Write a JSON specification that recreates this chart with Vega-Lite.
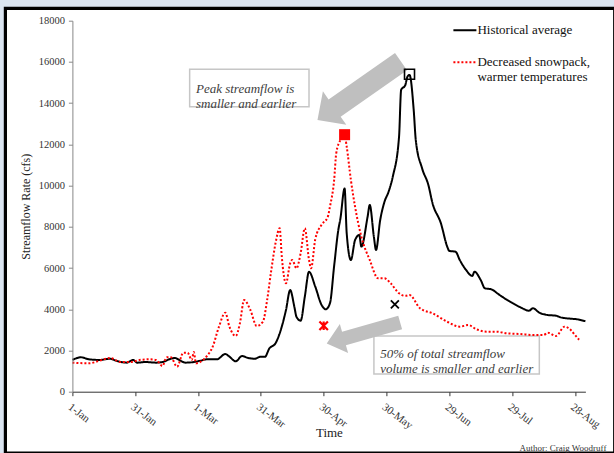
{
  "$schema": "https://vega.github.io/schema/vega-lite/v6.json",
  "width": 513,
  "height": 371,
  "autosize": {"type": "none"},
  "padding": {"left": 72.4, "top": 20.7, "right": 28.6, "bottom": 61.3},
  "background": "#dbe5f1",
  "config": {"view": {"stroke": null}, "font": "Liberation Serif, serif"},
  "title": {"text": "Author: Craig Woodruff", "orient": "bottom", "anchor": "end", "frame": "group", "fontSize": 9, "fontWeight": "normal", "font": "Liberation Serif, serif", "color": "#333333", "offset": -11, "dx": 21, "baseline": "top"},
  "datasets": {
    "flow": [
      {"date": "2000-01-01", "series": "Historical average", "cfs": 1540},
      {"date": "2000-01-05", "series": "Historical average", "cfs": 1670},
      {"date": "2000-01-09", "series": "Historical average", "cfs": 1570},
      {"date": "2000-01-14", "series": "Historical average", "cfs": 1540},
      {"date": "2000-01-19", "series": "Historical average", "cfs": 1600},
      {"date": "2000-01-22", "series": "Historical average", "cfs": 1500},
      {"date": "2000-01-27", "series": "Historical average", "cfs": 1410},
      {"date": "2000-01-30", "series": "Historical average", "cfs": 1540},
      {"date": "2000-02-01", "series": "Historical average", "cfs": 1410},
      {"date": "2000-02-05", "series": "Historical average", "cfs": 1440},
      {"date": "2000-02-10", "series": "Historical average", "cfs": 1410},
      {"date": "2000-02-13", "series": "Historical average", "cfs": 1440},
      {"date": "2000-02-17", "series": "Historical average", "cfs": 1600},
      {"date": "2000-02-19", "series": "Historical average", "cfs": 1635},
      {"date": "2000-02-21", "series": "Historical average", "cfs": 1540},
      {"date": "2000-02-24", "series": "Historical average", "cfs": 1410},
      {"date": "2000-02-28", "series": "Historical average", "cfs": 1440},
      {"date": "2000-03-02", "series": "Historical average", "cfs": 1500},
      {"date": "2000-03-05", "series": "Historical average", "cfs": 1570},
      {"date": "2000-03-10", "series": "Historical average", "cfs": 1570},
      {"date": "2000-03-14", "series": "Historical average", "cfs": 1830},
      {"date": "2000-03-16", "series": "Historical average", "cfs": 1700},
      {"date": "2000-03-19", "series": "Historical average", "cfs": 1475},
      {"date": "2000-03-22", "series": "Historical average", "cfs": 1730},
      {"date": "2000-03-25", "series": "Historical average", "cfs": 1635},
      {"date": "2000-03-28", "series": "Historical average", "cfs": 1600},
      {"date": "2000-03-31", "series": "Historical average", "cfs": 1700},
      {"date": "2000-04-02", "series": "Historical average", "cfs": 1700},
      {"date": "2000-04-04", "series": "Historical average", "cfs": 2090},
      {"date": "2000-04-07", "series": "Historical average", "cfs": 2350},
      {"date": "2000-04-09", "series": "Historical average", "cfs": 2830},
      {"date": "2000-04-12", "series": "Historical average", "cfs": 3960},
      {"date": "2000-04-14", "series": "Historical average", "cfs": 4930},
      {"date": "2000-04-16", "series": "Historical average", "cfs": 4120},
      {"date": "2000-04-17", "series": "Historical average", "cfs": 3640},
      {"date": "2000-04-19", "series": "Historical average", "cfs": 3445},
      {"date": "2000-04-21", "series": "Historical average", "cfs": 4610},
      {"date": "2000-04-23", "series": "Historical average", "cfs": 5820},
      {"date": "2000-04-26", "series": "Historical average", "cfs": 5095},
      {"date": "2000-04-29", "series": "Historical average", "cfs": 4210},
      {"date": "2000-05-01", "series": "Historical average", "cfs": 4000},
      {"date": "2000-05-03", "series": "Historical average", "cfs": 4290},
      {"date": "2000-05-05", "series": "Historical average", "cfs": 6100},
      {"date": "2000-05-07", "series": "Historical average", "cfs": 7850},
      {"date": "2000-05-08", "series": "Historical average", "cfs": 8400},
      {"date": "2000-05-10", "series": "Historical average", "cfs": 9860},
      {"date": "2000-05-11", "series": "Historical average", "cfs": 7690},
      {"date": "2000-05-13", "series": "Historical average", "cfs": 6390},
      {"date": "2000-05-15", "series": "Historical average", "cfs": 7360},
      {"date": "2000-05-17", "series": "Historical average", "cfs": 7600},
      {"date": "2000-05-18", "series": "Historical average", "cfs": 7040},
      {"date": "2000-05-21", "series": "Historical average", "cfs": 8500},
      {"date": "2000-05-22", "series": "Historical average", "cfs": 9060},
      {"date": "2000-05-24", "series": "Historical average", "cfs": 7500},
      {"date": "2000-05-25", "series": "Historical average", "cfs": 6875},
      {"date": "2000-05-27", "series": "Historical average", "cfs": 8330},
      {"date": "2000-05-29", "series": "Historical average", "cfs": 9200},
      {"date": "2000-05-31", "series": "Historical average", "cfs": 9700},
      {"date": "2000-06-02", "series": "Historical average", "cfs": 10430},
      {"date": "2000-06-05", "series": "Historical average", "cfs": 12370},
      {"date": "2000-06-06", "series": "Historical average", "cfs": 14640},
      {"date": "2000-06-08", "series": "Historical average", "cfs": 14880},
      {"date": "2000-06-09", "series": "Historical average", "cfs": 15280},
      {"date": "2000-06-10", "series": "Historical average", "cfs": 15370},
      {"date": "2000-06-12", "series": "Historical average", "cfs": 13670},
      {"date": "2000-06-13", "series": "Historical average", "cfs": 12200},
      {"date": "2000-06-16", "series": "Historical average", "cfs": 10840},
      {"date": "2000-06-19", "series": "Historical average", "cfs": 10030},
      {"date": "2000-06-21", "series": "Historical average", "cfs": 9140},
      {"date": "2000-06-25", "series": "Historical average", "cfs": 8170},
      {"date": "2000-06-28", "series": "Historical average", "cfs": 7040},
      {"date": "2000-06-29", "series": "Historical average", "cfs": 6830},
      {"date": "2000-07-02", "series": "Historical average", "cfs": 6790},
      {"date": "2000-07-04", "series": "Historical average", "cfs": 6390},
      {"date": "2000-07-07", "series": "Historical average", "cfs": 5905},
      {"date": "2000-07-10", "series": "Historical average", "cfs": 5614},
      {"date": "2000-07-11", "series": "Historical average", "cfs": 5822},
      {"date": "2000-07-14", "series": "Historical average", "cfs": 5420},
      {"date": "2000-07-16", "series": "Historical average", "cfs": 5017},
      {"date": "2000-07-19", "series": "Historical average", "cfs": 4968},
      {"date": "2000-07-23", "series": "Historical average", "cfs": 4692},
      {"date": "2000-07-28", "series": "Historical average", "cfs": 4367},
      {"date": "2000-08-02", "series": "Historical average", "cfs": 4095},
      {"date": "2000-08-06", "series": "Historical average", "cfs": 3930},
      {"date": "2000-08-08", "series": "Historical average", "cfs": 4047},
      {"date": "2000-08-11", "series": "Historical average", "cfs": 3833},
      {"date": "2000-08-15", "series": "Historical average", "cfs": 3721},
      {"date": "2000-08-19", "series": "Historical average", "cfs": 3688},
      {"date": "2000-08-21", "series": "Historical average", "cfs": 3610},
      {"date": "2000-08-26", "series": "Historical average", "cfs": 3542},
      {"date": "2000-08-29", "series": "Historical average", "cfs": 3513},
      {"date": "2000-09-02", "series": "Historical average", "cfs": 3420},
      {"date": "2000-01-01", "series": "Decreased snowpack, warmer temperatures", "cfs": 1407},
      {"date": "2000-01-09", "series": "Decreased snowpack, warmer temperatures", "cfs": 1378},
      {"date": "2000-01-14", "series": "Decreased snowpack, warmer temperatures", "cfs": 1504},
      {"date": "2000-01-19", "series": "Decreased snowpack, warmer temperatures", "cfs": 1635},
      {"date": "2000-01-24", "series": "Decreased snowpack, warmer temperatures", "cfs": 1441},
      {"date": "2000-01-29", "series": "Decreased snowpack, warmer temperatures", "cfs": 1441},
      {"date": "2000-02-02", "series": "Decreased snowpack, warmer temperatures", "cfs": 1538},
      {"date": "2000-02-07", "series": "Decreased snowpack, warmer temperatures", "cfs": 1572},
      {"date": "2000-02-10", "series": "Decreased snowpack, warmer temperatures", "cfs": 1538},
      {"date": "2000-02-13", "series": "Decreased snowpack, warmer temperatures", "cfs": 1247},
      {"date": "2000-02-15", "series": "Decreased snowpack, warmer temperatures", "cfs": 1669},
      {"date": "2000-02-17", "series": "Decreased snowpack, warmer temperatures", "cfs": 1669},
      {"date": "2000-02-20", "series": "Decreased snowpack, warmer temperatures", "cfs": 1213},
      {"date": "2000-02-23", "series": "Decreased snowpack, warmer temperatures", "cfs": 1892},
      {"date": "2000-02-25", "series": "Decreased snowpack, warmer temperatures", "cfs": 1892},
      {"date": "2000-02-27", "series": "Decreased snowpack, warmer temperatures", "cfs": 1538},
      {"date": "2000-02-28", "series": "Decreased snowpack, warmer temperatures", "cfs": 1926},
      {"date": "2000-02-29", "series": "Decreased snowpack, warmer temperatures", "cfs": 1378},
      {"date": "2000-03-03", "series": "Decreased snowpack, warmer temperatures", "cfs": 1504},
      {"date": "2000-03-05", "series": "Decreased snowpack, warmer temperatures", "cfs": 1698},
      {"date": "2000-03-08", "series": "Decreased snowpack, warmer temperatures", "cfs": 2183},
      {"date": "2000-03-11", "series": "Decreased snowpack, warmer temperatures", "cfs": 3154},
      {"date": "2000-03-14", "series": "Decreased snowpack, warmer temperatures", "cfs": 3833},
      {"date": "2000-03-16", "series": "Decreased snowpack, warmer temperatures", "cfs": 3154},
      {"date": "2000-03-19", "series": "Decreased snowpack, warmer temperatures", "cfs": 2703},
      {"date": "2000-03-21", "series": "Decreased snowpack, warmer temperatures", "cfs": 3319},
      {"date": "2000-03-23", "series": "Decreased snowpack, warmer temperatures", "cfs": 4449},
      {"date": "2000-03-26", "series": "Decreased snowpack, warmer temperatures", "cfs": 3964},
      {"date": "2000-03-29", "series": "Decreased snowpack, warmer temperatures", "cfs": 3188},
      {"date": "2000-04-01", "series": "Decreased snowpack, warmer temperatures", "cfs": 3396},
      {"date": "2000-04-03", "series": "Decreased snowpack, warmer temperatures", "cfs": 4449},
      {"date": "2000-04-05", "series": "Decreased snowpack, warmer temperatures", "cfs": 5905},
      {"date": "2000-04-07", "series": "Decreased snowpack, warmer temperatures", "cfs": 7200},
      {"date": "2000-04-09", "series": "Decreased snowpack, warmer temperatures", "cfs": 7928},
      {"date": "2000-04-10", "series": "Decreased snowpack, warmer temperatures", "cfs": 6550},
      {"date": "2000-04-12", "series": "Decreased snowpack, warmer temperatures", "cfs": 5260},
      {"date": "2000-04-14", "series": "Decreased snowpack, warmer temperatures", "cfs": 6230},
      {"date": "2000-04-15", "series": "Decreased snowpack, warmer temperatures", "cfs": 6390},
      {"date": "2000-04-17", "series": "Decreased snowpack, warmer temperatures", "cfs": 5987},
      {"date": "2000-04-19", "series": "Decreased snowpack, warmer temperatures", "cfs": 6715},
      {"date": "2000-04-21", "series": "Decreased snowpack, warmer temperatures", "cfs": 7928},
      {"date": "2000-04-23", "series": "Decreased snowpack, warmer temperatures", "cfs": 6400},
      {"date": "2000-04-24", "series": "Decreased snowpack, warmer temperatures", "cfs": 5987},
      {"date": "2000-04-26", "series": "Decreased snowpack, warmer temperatures", "cfs": 7400},
      {"date": "2000-04-29", "series": "Decreased snowpack, warmer temperatures", "cfs": 8100},
      {"date": "2000-05-02", "series": "Decreased snowpack, warmer temperatures", "cfs": 8490},
      {"date": "2000-05-03", "series": "Decreased snowpack, warmer temperatures", "cfs": 8976},
      {"date": "2000-05-05", "series": "Decreased snowpack, warmer temperatures", "cfs": 10272},
      {"date": "2000-05-06", "series": "Decreased snowpack, warmer temperatures", "cfs": 11567},
      {"date": "2000-05-08", "series": "Decreased snowpack, warmer temperatures", "cfs": 12212},
      {"date": "2000-05-10", "series": "Decreased snowpack, warmer temperatures", "cfs": 12455},
      {"date": "2000-05-11", "series": "Decreased snowpack, warmer temperatures", "cfs": 11887},
      {"date": "2000-05-13", "series": "Decreased snowpack, warmer temperatures", "cfs": 10272},
      {"date": "2000-05-15", "series": "Decreased snowpack, warmer temperatures", "cfs": 8976},
      {"date": "2000-05-18", "series": "Decreased snowpack, warmer temperatures", "cfs": 7521},
      {"date": "2000-05-22", "series": "Decreased snowpack, warmer temperatures", "cfs": 6390},
      {"date": "2000-05-26", "series": "Decreased snowpack, warmer temperatures", "cfs": 5502},
      {"date": "2000-05-29", "series": "Decreased snowpack, warmer temperatures", "cfs": 5502},
      {"date": "2000-06-01", "series": "Decreased snowpack, warmer temperatures", "cfs": 5260},
      {"date": "2000-06-05", "series": "Decreased snowpack, warmer temperatures", "cfs": 4774},
      {"date": "2000-06-08", "series": "Decreased snowpack, warmer temperatures", "cfs": 4650},
      {"date": "2000-06-10", "series": "Decreased snowpack, warmer temperatures", "cfs": 4692},
      {"date": "2000-06-15", "series": "Decreased snowpack, warmer temperatures", "cfs": 4047},
      {"date": "2000-06-21", "series": "Decreased snowpack, warmer temperatures", "cfs": 3804},
      {"date": "2000-06-28", "series": "Decreased snowpack, warmer temperatures", "cfs": 3396},
      {"date": "2000-07-04", "series": "Decreased snowpack, warmer temperatures", "cfs": 3154},
      {"date": "2000-07-08", "series": "Decreased snowpack, warmer temperatures", "cfs": 3236},
      {"date": "2000-07-12", "series": "Decreased snowpack, warmer temperatures", "cfs": 3028},
      {"date": "2000-07-17", "series": "Decreased snowpack, warmer temperatures", "cfs": 2911},
      {"date": "2000-07-22", "series": "Decreased snowpack, warmer temperatures", "cfs": 2911},
      {"date": "2000-07-26", "series": "Decreased snowpack, warmer temperatures", "cfs": 2834},
      {"date": "2000-08-02", "series": "Decreased snowpack, warmer temperatures", "cfs": 2800},
      {"date": "2000-08-08", "series": "Decreased snowpack, warmer temperatures", "cfs": 2751},
      {"date": "2000-08-13", "series": "Decreased snowpack, warmer temperatures", "cfs": 2751},
      {"date": "2000-08-15", "series": "Decreased snowpack, warmer temperatures", "cfs": 2862},
      {"date": "2000-08-19", "series": "Decreased snowpack, warmer temperatures", "cfs": 2703},
      {"date": "2000-08-23", "series": "Decreased snowpack, warmer temperatures", "cfs": 3154},
      {"date": "2000-08-26", "series": "Decreased snowpack, warmer temperatures", "cfs": 2994},
      {"date": "2000-08-28", "series": "Decreased snowpack, warmer temperatures", "cfs": 2751},
      {"date": "2000-08-30", "series": "Decreased snowpack, warmer temperatures", "cfs": 2520}
    ],
    "markers": [
      {"date": "2000-06-10", "cfs": 15400, "marker": "Historical peak"},
      {"date": "2000-05-10", "cfs": 12470, "marker": "Decreased peak"},
      {"date": "2000-06-03", "cfs": 4240, "marker": "Historical 50% volume"},
      {"date": "2000-04-30", "cfs": 3200, "marker": "Decreased 50% volume"}
    ],
    "arrows": [
      {"date": "2000-05-17", "cfs": 14600, "arrow": "peak"},
      {"date": "2000-05-19", "cfs": 2850, "arrow": "volume"}
    ],
    "frame": [
      {"date": "1999-11-30", "date2": "2000-09-16", "cfs": 18600, "cfs2": -2974}
    ],
    "boxes": [
      {"date": "2000-02-26", "date2": "2000-04-23", "cfs": 15640, "cfs2": 13830, "text": "Peak streamflow is\nsmaller and earlier", "tdate": "2000-02-29", "tcfs": 14710},
      {"date": "2000-05-24", "date2": "2000-08-11", "cfs": 2700, "cfs2": 860, "text": "50% of total streamflow\nvolume is smaller and earlier", "tdate": "2000-05-27", "tcfs": 1840}
    ]
  },
  "encoding": {
    "x": {
      "field": "date", "type": "temporal",
      "scale": {"type": "utc", "domain": [{"year": 2000, "month": 1, "date": 1, "utc": true}, {"year": 2000, "month": 9, "date": 2, "utc": true}]},
      "axis": {
        "title": "Time", "zindex": 2,
        "values": [
          {"year": 2000, "month": 1, "date": 1, "utc": true},
          {"year": 2000, "month": 1, "date": 31, "utc": true},
          {"year": 2000, "month": 3, "date": 1, "utc": true},
          {"year": 2000, "month": 3, "date": 31, "utc": true},
          {"year": 2000, "month": 4, "date": 30, "utc": true},
          {"year": 2000, "month": 5, "date": 30, "utc": true},
          {"year": 2000, "month": 6, "date": 29, "utc": true},
          {"year": 2000, "month": 7, "date": 29, "utc": true},
          {"year": 2000, "month": 8, "date": 28, "utc": true}
        ],
        "labelExpr": "utcFormat(datum.value, '%-d-%b')",
        "labelAngle": 37, "labelAlign": "left", "labelBaseline": "top", "labelPadding": 5,
        "labelFont": "Liberation Serif, serif", "labelFontSize": 11, "labelColor": "#333333",
        "labelOverlap": false, "labelFlush": false,
        "tickSize": 4, "tickColor": "#333333", "domainColor": "#333333", "grid": false,
        "titleFont": "Liberation Serif, serif", "titleFontSize": 13, "titleFontWeight": "normal", "titleColor": "#222222", "titlePadding": -4
      }
    },
    "y": {
      "field": "cfs", "type": "quantitative",
      "scale": {"domain": [0, 18000], "nice": false, "zero": true},
      "axis": {
        "title": "Streamflow Rate (cfs)", "zindex": 2,
        "values": [0, 2000, 4000, 6000, 8000, 10000, 12000, 14000, 16000, 18000],
        "format": "d",
        "labelFont": "Liberation Serif, serif", "labelFontSize": 10.5, "labelColor": "#333333", "labelPadding": 4,
        "tickSize": 4, "tickColor": "#888888", "domainColor": "#888888", "grid": false,
        "titleFont": "Liberation Serif, serif", "titleFontSize": 12, "titleFontWeight": "normal", "titleColor": "#222222", "titlePadding": 6
      }
    }
  },
  "layer": [
    {
      "data": {"name": "frame"},
      "mark": {"type": "rect", "fill": "#ffffff", "stroke": "#000000", "strokeWidth": 3.2, "clip": false},
      "encoding": {
        "x2": {"field": "date2"},
        "y2": {"field": "cfs2"}
      }
    },
    {
      "data": {"name": "boxes"},
      "mark": {"type": "rect", "fill": "#ffffff", "stroke": "#c6c6c6", "strokeWidth": 1.5},
      "encoding": {
        "x2": {"field": "date2"},
        "y2": {"field": "cfs2"}
      }
    },
    {
      "data": {"name": "flow"},
      "mark": {"type": "line", "interpolate": "monotone", "strokeWidth": 2},
      "encoding": {
        "color": {
          "field": "series", "type": "nominal",
          "scale": {"domain": ["Historical average", "Decreased snowpack, warmer temperatures"], "range": ["#000000", "#ff0000"]},
          "legend": {
            "orient": "none", "legendX": 380, "legendY": -3, "title": null, "zindex": 2,
            "symbolType": "stroke", "symbolSize": 529, "symbolStrokeWidth": 2,
            "labelFont": "Liberation Serif, serif", "labelFontSize": 13, "labelColor": "#111111", "labelOffset": 0,
            "labelLimit": 0, "rowPadding": 12,
            "labelExpr": "datum.label == 'Historical average' ? datum.label : ['Decreased snowpack,', 'warmer temperatures']"
          }
        },
        "strokeDash": {
          "field": "series", "type": "nominal",
          "scale": {"domain": ["Historical average", "Decreased snowpack, warmer temperatures"], "range": [[1, 0], [2, 2]]}
        }
      }
    },
    {
      "data": {"name": "arrows"},
      "transform": [{"filter": "datum.arrow == 'peak'"}],
      "mark": {"type": "point", "filled": true, "color": "#bfbfbf", "opacity": 1, "size": 10404, "angle": 145,
               "shape": "M-1,-0.206L0.59,-0.206L0.59,-0.4L1,0L0.59,0.4L0.59,0.206L-1,0.206Z"}
    },
    {
      "data": {"name": "arrows"},
      "transform": [{"filter": "datum.arrow == 'volume'"}],
      "mark": {"type": "point", "filled": true, "color": "#bfbfbf", "opacity": 1, "size": 5837, "angle": 164,
               "shape": "M-1,-0.183L0.53,-0.183L0.53,-0.393L1,0L0.53,0.393L0.53,0.183L-1,0.183Z"}
    },
    {
      "data": {"name": "markers"},
      "transform": [{"filter": "datum.marker == 'Historical peak'"}],
      "mark": {"type": "point", "shape": "square", "filled": false, "stroke": "#000000", "strokeWidth": 1.6, "size": 100, "opacity": 1}
    },
    {
      "data": {"name": "markers"},
      "transform": [{"filter": "datum.marker == 'Decreased peak'"}],
      "mark": {"type": "point", "shape": "square", "filled": true, "color": "#ff0000", "size": 121, "opacity": 1}
    },
    {
      "data": {"name": "markers"},
      "transform": [{"filter": "datum.marker == 'Historical 50% volume'"}],
      "mark": {"type": "point", "shape": "M-1,-1L1,1M-1,1L1,-1", "filled": false, "stroke": "#000000", "strokeWidth": 1.8, "size": 64, "opacity": 1}
    },
    {
      "data": {"name": "markers"},
      "transform": [{"filter": "datum.marker == 'Decreased 50% volume'"}],
      "mark": {"type": "point", "shape": "M-1,-1L1,1M-1,1L1,-1M0,-1L0,1", "filled": false, "stroke": "#ff0000", "strokeWidth": 2.2, "size": 72, "opacity": 1}
    },
    {
      "data": {"name": "boxes"},
      "mark": {"type": "text", "font": "Liberation Serif, serif", "fontStyle": "italic", "fontSize": 13, "align": "left", "baseline": "middle", "lineBreak": "\n", "lineHeight": 15, "color": "#404040"},
      "encoding": {
        "x": {"field": "tdate", "type": "temporal"},
        "y": {"field": "tcfs", "type": "quantitative"},
        "text": {"field": "text"}
      }
    }
  ]
}
